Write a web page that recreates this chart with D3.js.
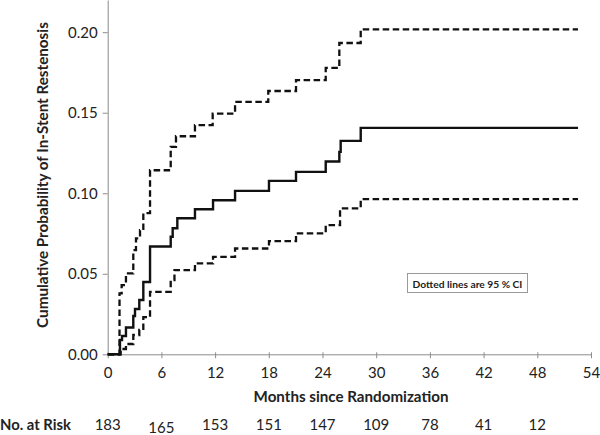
<!DOCTYPE html>
<html>
<head>
<meta charset="utf-8">
<script src="https://cdn.jsdelivr.net/npm/d3@7"></script>
<style>
  html, body { margin: 0; padding: 0; background: #fff; }
  svg { display: block; }
  text { font-family: Lato, "Open Sans", sans-serif; fill: #222; }
</style>
</head>
<body>
<svg id="chart" width="600" height="435"></svg>
<script>
// ---- data ----
const estMonths  = [0, 1.37, 1.6, 2.04, 2.86, 3.05, 3.53, 3.98, 4.73, 7.04, 7.26, 7.78, 9.75, 11.77, 14.23, 18.02, 21.04, 24.36, 25.88, 26.03, 28.27, 52.55];
const estValues  = [0, 0.0089, 0.0114, 0.0166, 0.0238, 0.0281, 0.0337, 0.0449, 0.0669, 0.0730, 0.0783, 0.0845, 0.0901, 0.0957, 0.1015, 0.1077, 0.1133, 0.1197, 0.1257, 0.1325, 0.1406, 0.1406];

const upperMonths = [0, 1.32, 1.56, 2.04, 2.86, 3.16, 3.61, 3.98, 4.73, 7.04, 7.63, 9.75, 11.73, 14.23, 17.94, 21.04, 24.36, 25.88, 28.27, 52.55];
const upperValues = [0, 0.0378, 0.0430, 0.0502, 0.0647, 0.0720, 0.0771, 0.0877, 0.1143, 0.1288, 0.1354, 0.1423, 0.1495, 0.1567, 0.1635, 0.1702, 0.1778, 0.1933, 0.2018, 0.2018];

const lowerMonths = [0, 1.45, 2.04, 2.86, 3.53, 3.98, 4.73, 7.04, 7.46, 9.75, 11.77, 14.23, 18.02, 21.04, 24.36, 25.96, 28.27, 52.55];
const lowerValues = [0, 0.0033, 0.0064, 0.0120, 0.0151, 0.0231, 0.0388, 0.0461, 0.0523, 0.0565, 0.0605, 0.0657, 0.0703, 0.0751, 0.0802, 0.0906, 0.0963, 0.0963];

const xTicks = [0, 6, 12, 18, 24, 30, 36, 42, 48, 54];
const yTicks = [0, 0.05, 0.10, 0.15, 0.20];
const riskMonths = [0, 6, 12, 18, 24, 30, 36, 42, 48];
const riskCounts = [183, 165, 153, 151, 147, 109, 78, 41, 12];

const xTitle = "Months since Randomization";
const yTitle = "Cumulative Probability of In-Stent Restenosis";
const riskLabel = "No. at Risk";
const legendText = "Dotted lines are 95 % CI";

// ---- chart ----
const svg = d3.select("#chart");
const x = d3.scaleLinear().domain([0, 54]).range([107.7, 591]);
const y = d3.scaleLinear().domain([0, 0.22]).range([354.3, 0]);

const axisColor = "#8c8c8c";

// y axis
const gy = svg.append("g").attr("transform", `translate(${x(0)},0)`)
  .call(d3.axisLeft(y).tickValues(yTicks).tickFormat(d3.format(".2f")).tickSize(5).tickSizeOuter(0).tickPadding(5));
gy.select(".domain").attr("stroke", axisColor);
gy.selectAll(".tick line").attr("stroke", axisColor);
gy.selectAll(".tick text").attr("font-size", 15).attr("font-family", "Lato").attr("fill", "#222");

// x axis
const gx = svg.append("g").attr("transform", `translate(0,${y(0)})`)
  .call(d3.axisBottom(x).tickValues(xTicks).tickFormat(d3.format("d")).tickSize(4).tickSizeOuter(0).tickPadding(9));
gx.select(".domain").attr("stroke", axisColor);
gx.selectAll(".tick line").attr("stroke", axisColor).attr("y1", -2);
gx.selectAll(".tick text").attr("font-size", 15).attr("font-family", "Lato").attr("fill", "#222");

// step lines
const stepLine = d3.line().x(d => x(d[0])).y(d => y(d[1])).curve(d3.curveStepAfter);
const zip = (a, b) => a.map((m, i) => [m, b[i]]);

svg.append("path").datum(zip(upperMonths, upperValues))
  .attr("d", stepLine).attr("fill", "none").attr("stroke", "#111")
  .attr("stroke-width", 2.3).attr("stroke-dasharray", "6.5,3.5");
svg.append("path").datum(zip(lowerMonths, lowerValues))
  .attr("d", stepLine).attr("fill", "none").attr("stroke", "#111")
  .attr("stroke-width", 2.3).attr("stroke-dasharray", "6.5,3.5");
svg.append("path").datum(zip(estMonths, estValues))
  .attr("d", stepLine).attr("fill", "none").attr("stroke", "#111")
  .attr("stroke-width", 2.4);

// helper: fit font size to target width
function fit(sel, targetWidth) {
  const node = sel.node();
  sel.attr("font-size", 100);
  const w = node.getComputedTextLength();
  sel.attr("font-size", 100 * targetWidth / w);
  return sel;
}

// axis titles
const xt = svg.append("text").attr("x", 351).attr("y", 402)
  .attr("text-anchor", "middle").attr("font-weight", "bold").text(xTitle);
fit(xt, 195);

const yt = svg.append("text").attr("transform", "translate(48,175) rotate(-90)")
  .attr("text-anchor", "middle").attr("font-weight", "bold").text(yTitle);
fit(yt, 306);

// number at risk
const rl = svg.append("text").attr("x", 0).attr("y", 430).attr("font-weight", "bold")
  .text(riskLabel);
fit(rl, 71);
svg.append("g").selectAll("text").data(riskCounts).join("text")
  .attr("x", (d, i) => x(riskMonths[i]))
  .attr("y", (d, i) => i === 1 ? 433 : 430)
  .attr("text-anchor", "middle").attr("font-size", 15)
  .text(d => d);

// legend box
svg.append("rect").attr("x", 407.5).attr("y", 273.5).attr("width", 120).attr("height", 19)
  .attr("fill", "#fff").attr("stroke", "#999").attr("stroke-width", 1);
const lt = svg.append("text").attr("x", 467.5).attr("y", 287.5)
  .attr("text-anchor", "middle").attr("font-weight", "bold").text(legendText);
fit(lt, 110);
</script>
</body>
</html>
